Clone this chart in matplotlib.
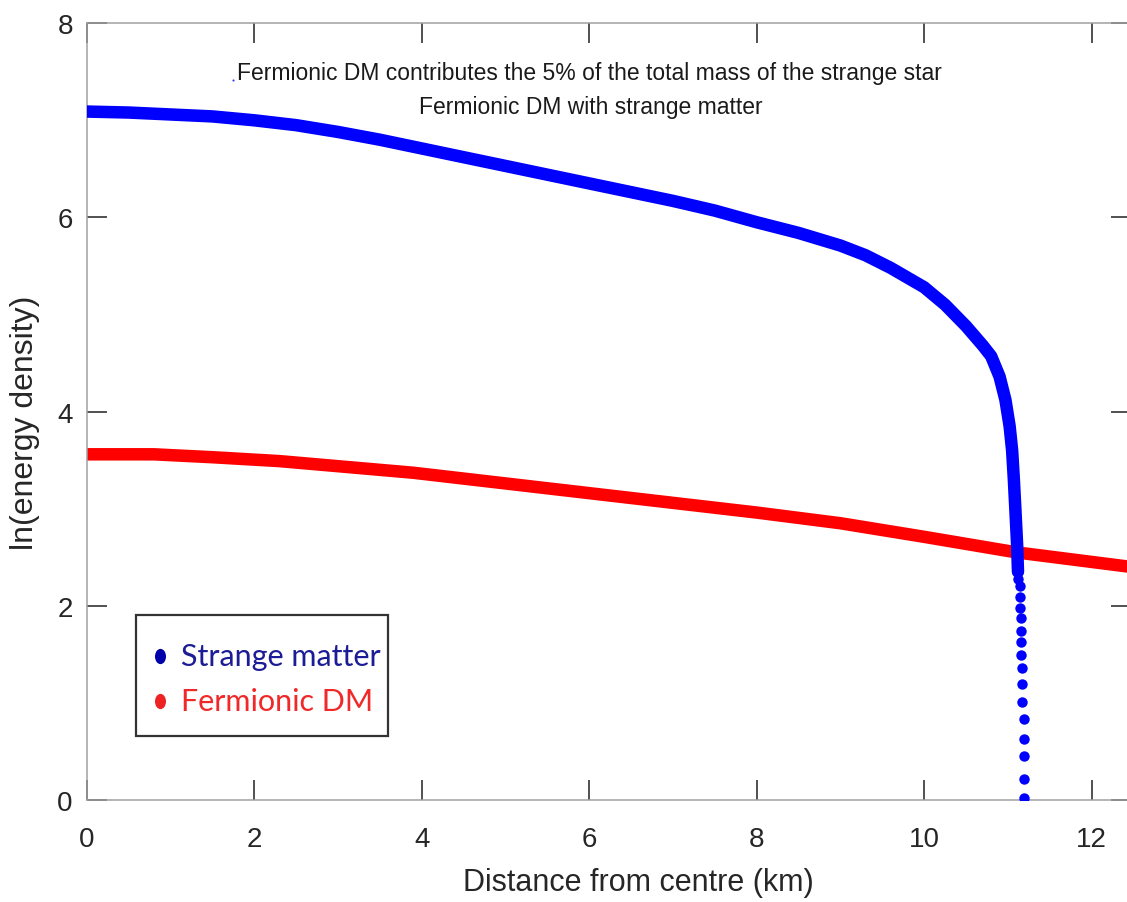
import numpy as np
import matplotlib.pyplot as plt
from matplotlib.markers import MarkerStyle
from matplotlib.patches import Rectangle
from matplotlib.transforms import Affine2D

"""profiles: ln(energy density) against radius (km)"""
# strange matter, densely sampled part
r_sm = [0.0, 0.5, 1.0, 1.5, 2.0, 2.5, 3.0, 3.5, 4.0, 4.5, 5.0, 5.5, 6.0,
        6.5, 7.0, 7.5, 8.0, 8.5, 9.0, 9.3, 9.6, 10.0, 10.25, 10.5, 10.7,
        10.8, 10.9, 10.97, 11.02, 11.05, 11.07, 11.09, 11.11, 11.12]
e_sm = [7.09, 7.08, 7.06, 7.04, 7.00, 6.95, 6.88, 6.80, 6.71, 6.62, 6.53,
        6.44, 6.35, 6.26, 6.17, 6.07, 5.95, 5.84, 5.71, 5.61, 5.48, 5.28,
        5.10, 4.88, 4.68, 4.57, 4.36, 4.12, 3.85, 3.60, 3.31, 2.97, 2.62,
        2.35]
# strange matter, sparse points near the surface
r_tail = [11.12, 11.14, 11.14, 11.14, 11.15, 11.15, 11.15, 11.16, 11.17,
          11.17, 11.17, 11.19, 11.19, 11.19, 11.19, 11.19]
e_tail = [2.28, 2.20, 2.09, 1.98, 1.87, 1.74, 1.63, 1.49, 1.36,
          1.19, 1.01, 0.83, 0.63, 0.45, 0.22, 0.02]
# fermionic dark matter
r_dm = [0.0, 0.8, 1.5, 2.3, 3.1, 3.9, 4.7, 5.5, 6.3, 7.1, 8.0, 9.0, 10.0,
        11.1, 12.47]
e_dm = [3.56, 3.56, 3.53, 3.49, 3.43, 3.37, 3.29, 3.21, 3.13, 3.05, 2.96,
        2.85, 2.71, 2.55, 2.40]
# stray point
r_dot = [1.75]
e_dot = [7.41]

x_ticks = [0, 2, 4, 6, 8, 10, 12]
y_ticks = [0, 2, 4, 6, 8]
labels = ['Strange matter', 'Fermionic DM']
key_colors = ['#0000aa', '#ee2222']
text_colors = ['#1c1c96', '#f02828']
note1 = 'Fermionic DM contributes the 5% of the total mass of the strange star'
note2 = 'Fermionic DM with strange matter'

plain = ['Liberation Sans', 'DejaVu Sans']

fig = plt.figure(figsize=(11.27, 9.03), dpi=100)
ax = fig.add_axes([0.0769, 0.113, 0.9267, 0.8602])

ax.plot(r_dm, e_dm, color='#ff0000', lw=9, solid_capstyle='round',
        solid_joinstyle='round', zorder=2)
ax.plot(r_sm, e_sm, color='#0000ff', lw=9, solid_capstyle='round',
        solid_joinstyle='round', zorder=3)
ax.plot(r_tail, e_tail, 'o', color='#0000ff', ms=7.5, mew=0, zorder=3)
ax.plot(r_dot, e_dot, 'o', color='#3030ff', ms=1.5, mew=0)

ax.set_xlim(0, 12.47)
ax.set_ylim(0, 8)
ax.set_xticks(x_ticks)
ax.set_yticks(y_ticks)
ax.tick_params(direction='in', length=14.4, width=1.1, color='#222222',
               top=True, right=True, labelsize=20, labelcolor='#262626')
ax.tick_params(axis='x', pad=18.5)
ax.tick_params(axis='y', pad=10)
for lab in ax.get_xticklabels() + ax.get_yticklabels():
    lab.set_family(plain)
for s in ax.spines.values():
    s.set_color('#a0a0a0')
    s.set_linewidth(1.1)
    s.set_clip_on(False)

ax.set_xlabel('Distance from centre (km)', fontsize=22, family=plain,
              color='#262626')
ax.xaxis.label.set_va('center')
ax.xaxis.set_label_coords(0.528, -0.105)
ax.set_ylabel('ln(energy density)', fontsize=23, family=plain,
              color='#262626')
ax.yaxis.label.set_va('center')
ax.yaxis.set_label_coords(-0.059, 0.487)

ax.text(0.481, 0.9366, note1, transform=ax.transAxes, ha='center',
        va='center', fontsize=16.5, family=plain, color='#1a1a1a')
ax.text(0.483, 0.8925, note2, transform=ax.transAxes, ha='center',
        va='center', fontsize=16.5, family=plain, color='#1a1a1a')

# key box drawn by hand in axes coordinates
ax.add_patch(Rectangle((0.0472, 0.0824), 0.2413, 0.1558,
                       transform=ax.transAxes, fill=False,
                       edgecolor='#333333', lw=1.6, zorder=5))
oval = MarkerStyle('o', transform=Affine2D().scale(0.72, 1.0))
for i, (lab, kc, tc) in enumerate(zip(labels, key_colors, text_colors)):
    yk = 0.1854 - i * 0.058
    ax.plot([0.0702], [yk], ls='', marker=oval, ms=11, mew=0, color=kc,
            transform=ax.transAxes, zorder=6)
    ax.text(0.0903, yk, lab, transform=ax.transAxes, ha='left',
            va='center', fontsize=22, family=['Lato', 'DejaVu Sans'],
            color=tc, zorder=6)

fig.savefig('out.png', dpi=100)
